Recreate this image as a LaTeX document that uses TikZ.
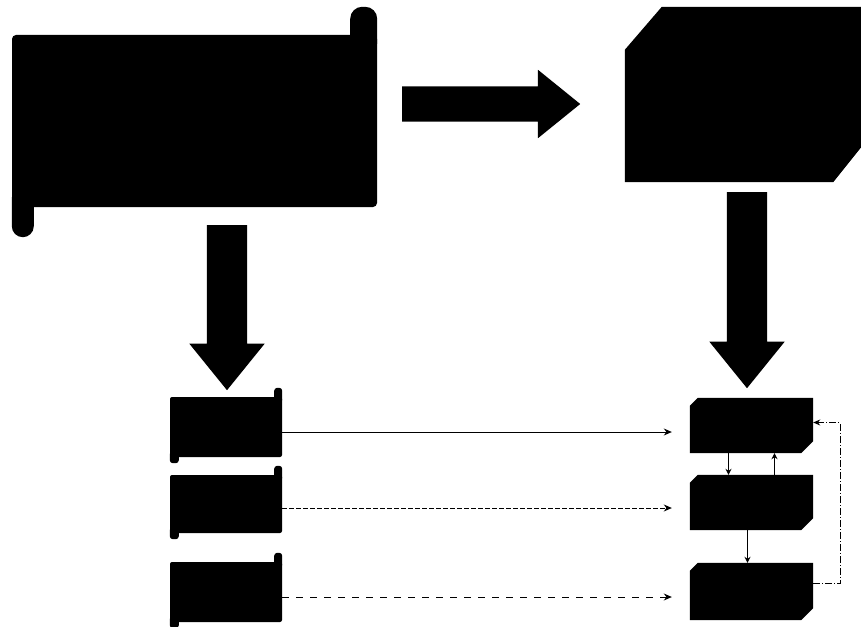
\documentclass[tikz,border=0pt]{standalone}
\usetikzlibrary{shapes.arrows,arrows.meta}
\begin{document}
\begin{tikzpicture}[x=1pt, y=-1pt,
  flowscroll/.style = {fill=black, rounded corners=4pt, inner sep=0pt},
  flowstore/.style = {rectangle, inner sep=0pt},
  flowbig/.style = {fill=black, single arrow, anchor=tail, inner sep=0pt, inner ysep=20pt, single arrow head extend=17.5pt, single arrow tip angle=78},
  flowarr/.style = {-{Stealth[length=8pt, width=7pt]}, line width=1pt, shorten >=18pt},
  flowlink/.style = {-{Stealth[length=6pt, width=6pt]}, line width=1pt},
  flowloop/.style = {-{Stealth[length=7pt, width=6pt]}, line width=1pt, dash pattern=on 7pt off 2pt on 1pt off 2pt}
]
  \useasboundingbox[fill=white] (0,0) rectangle (861,626);
  % scroll
  \node[flowscroll, minimum width=365pt, minimum height=172pt] (doc) at (194.5,121) {};
  \fill[rounded corners=12pt] ([xshift=-27pt, yshift=-20pt]doc.north east) rectangle ([yshift=28pt]doc.north east);
  \fill[rounded corners=11pt] ([yshift=20pt]doc.south west) rectangle ([xshift=22pt, yshift=-30pt]doc.south west);
  % store
  \node[flowstore, minimum width=236pt, minimum height=175pt] (db) at (743,94.5) {};
  \fill ([xshift=37pt]db.north west) -- (db.north east) -- ([yshift=35pt]db.south east)
    -- ([xshift=-28pt]db.south east) -- (db.south west) -- ([yshift=-43pt]db.north west) -- cycle;
  % big arrows
  \node[flowbig, inner ysep=17.5pt, single arrow head extend=16.5pt, minimum height=178pt] (ar) at (402,104) {};
  \node[flowbig, minimum height=165pt, rotate=-90] (al) at (227,225) {};
  \node[flowbig, minimum height=196pt, rotate=-90] (ad) at (747,192) {};
  % small scrolls
  \node[flowscroll, rounded corners=2pt, minimum width=112pt, minimum height=60pt] (s1) at (226,427) {};
  \fill[rounded corners=3pt] ([xshift=-8pt, yshift=-6pt]s1.north east) rectangle ([yshift=9pt]s1.north east);
  \fill[rounded corners=3pt] ([yshift=6pt]s1.south west) rectangle ([xshift=9pt, yshift=-6pt]s1.south west);
  \node[flowscroll, rounded corners=2pt, minimum width=112pt, minimum height=58pt] (s2) at (226,504) {};
  \fill[rounded corners=3pt] ([xshift=-8pt, yshift=-6pt]s2.north east) rectangle ([yshift=9pt]s2.north east);
  \fill[rounded corners=3pt] ([yshift=6pt]s2.south west) rectangle ([xshift=9pt, yshift=-6pt]s2.south west);
  \node[flowscroll, rounded corners=2pt, minimum width=112pt, minimum height=60pt] (s3) at (226,592) {};
  \fill[rounded corners=3pt] ([xshift=-8pt, yshift=-6pt]s3.north east) rectangle ([yshift=9pt]s3.north east);
  \fill[rounded corners=3pt] ([yshift=6pt]s3.south west) rectangle ([xshift=9pt, yshift=-6pt]s3.south west);
  % small stores
  \node[flowstore, minimum width=123pt, minimum height=55pt] (b1) at (751.5,425.5) {};
  \fill ([xshift=8pt]b1.north west) -- (b1.north east) -- ([yshift=12pt]b1.south east)
    -- ([xshift=-12pt]b1.south east) -- (b1.south west) -- ([yshift=-8pt]b1.north west) -- cycle;
  \node[flowstore, minimum width=123pt, minimum height=55pt] (b2) at (751.5,502.5) {};
  \fill ([xshift=8pt]b2.north west) -- (b2.north east) -- ([yshift=12pt]b2.south east)
    -- ([xshift=-12pt]b2.south east) -- (b2.south west) -- ([yshift=-8pt]b2.north west) -- cycle;
  \node[flowstore, minimum width=123pt, minimum height=57pt] (b3) at (751.5,591.5) {};
  \fill ([xshift=8pt]b3.north west) -- (b3.north east) -- ([yshift=12pt]b3.south east)
    -- ([xshift=-12pt]b3.south east) -- (b3.south west) -- ([yshift=-8pt]b3.north west) -- cycle;
  % links
  \draw[flowarr] ([yshift=-5pt]s1.east) -- ([yshift=-5pt]s1.east -| b1.west);
  \draw[flowarr, dash pattern=on 5pt off 2pt] ([yshift=-4pt]s2.east) -- ([yshift=-4pt]s2.east -| b2.west);
  \draw[flowarr, dash pattern=on 7pt off 7pt] ([yshift=-5pt]s3.east) -- ([yshift=-5pt]s3.east -| b3.west);
  \draw[flowlink] ([xshift=-23pt]b1.south) -- ([xshift=-23pt]b2.north);
  \draw[flowlink] ([xshift=23pt]b2.north) -- ([xshift=23pt]b1.south);
  \draw[flowlink] ([xshift=-4pt]b2.south) -- ([xshift=-4pt]b3.north);
  \draw[flowloop] ([yshift=8pt]b3.east) -- ++(27,0) |- ([yshift=3pt]b1.east);
\end{tikzpicture}
\end{document}
